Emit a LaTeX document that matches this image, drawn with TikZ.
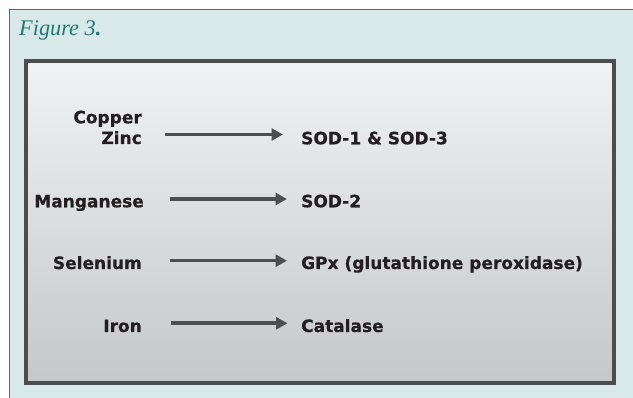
\documentclass[tikz,border=0pt]{standalone}
\usepackage{fontspec}
\setmainfont{DejaVu Sans}[BoldFeatures={FakeBold=0.6}]
\newfontfamily\figfont{Liberation Serif}
\usetikzlibrary{arrows.meta}
\definecolor{panelbg}{HTML}{D9E8E8}
\definecolor{panelline}{HTML}{2A7F78}
\definecolor{titlecol}{HTML}{1F7A73}
\definecolor{boxline}{HTML}{4B4D50}
\definecolor{boxtop}{HTML}{F1F2F4}
\definecolor{boxbot}{HTML}{C6C7C9}
\definecolor{txt}{HTML}{231F20}
\definecolor{arr}{HTML}{4D4E50}
\tikzset{
  lbl/.style={inner sep=0pt, text=txt, font=\fontsize{17}{20.7}\selectfont\bfseries},
  lleft/.style={lbl, anchor=base east},
  lright/.style={lbl, anchor=base west},
  conn/.style={draw=arr, line width=3.6pt, -{Triangle[length=11.5pt,width=12pt]}}
}
\begin{document}
\begin{tikzpicture}[x=1pt,y=-1pt]
\useasboundingbox (0,0) rectangle (633,398);
\fill[white] (0,0) rectangle (633,398);
\fill[panelbg] (9.3,9.3) rectangle (633,398);
\draw[panelline, line width=1.2pt] (9.3,398) -- (9.3,9.3) -- (633,9.3);
\node[inner sep=0pt, anchor=base west, text=titlecol, font=\figfont\itshape\fontsize{22.3}{26}\selectfont] (title) at (19,36) {Figure 3\textbf{.}};
\shade[top color=boxtop, bottom color=boxbot] (25.8,60.8) rectangle (614.2,383.2);
\draw[boxline, line width=3.6pt] (25.8,60.8) rectangle (614.2,383.2);
% left labels
\node[lleft] (copper) at (142,123.3) {Copper};
\node[lleft] (zinc) at (142,144) {Zinc};
\node[lleft] (mn) at (144,207.3) {Manganese};
\node[lleft] (se) at (142,269) {Selenium};
\node[lleft] (fe) at (142,332) {Iron};
% right labels
\node[lright] (sod13) at (301,144.3) {SOD-1 \& SOD-3};
\node[lright] (sod2) at (301,207.3) {SOD-2};
\node[lright] (gpx) at (301,269) {GPx (glutathione peroxidase)};
\node[lright] (cat) at (301,332) {Catalase};
% arrow end points
\coordinate (a1s) at (165,134.5);
\coordinate (a1e) at (283,134.5);
\coordinate (a2s) at (170,199);
\coordinate (a2e) at (287,199);
\coordinate (a3s) at (170,260.7);
\coordinate (a3e) at (287,260.7);
\coordinate (a4s) at (170.5,323.3);
\coordinate (a4e) at (287.5,323.3);
\draw[conn] (a1s) -- (a1e);
\draw[conn] (a2s) -- (a2e);
\draw[conn] (a3s) -- (a3e);
\draw[conn] (a4s) -- (a4e);
\end{tikzpicture}
\end{document}
